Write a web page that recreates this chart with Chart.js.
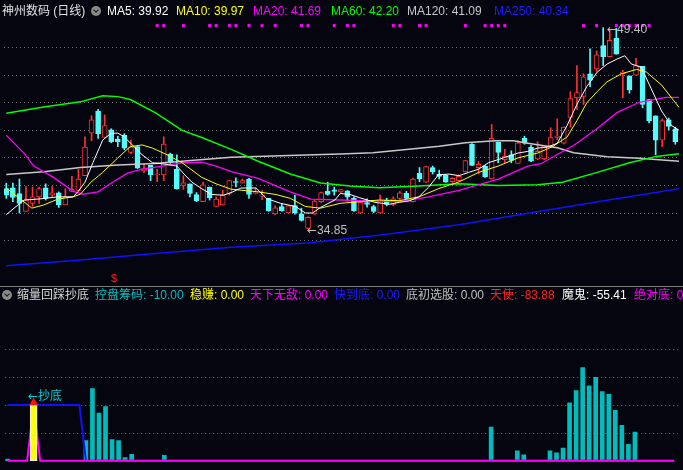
<!DOCTYPE html>
<html>
<head>
<meta charset="utf-8">
<script src="https://cdn.jsdelivr.net/npm/chart.js@4.4.0/dist/chart.umd.min.js"></script>
<style>
  body { margin: 0; background: #05050f; width: 683px; height: 470px; overflow: hidden; position: relative;
         font-family: "Liberation Sans", "Noto Sans CJK SC", sans-serif; font-size: 12px; }
  canvas { position: absolute; left: 0; }
  #mainChart { top: 0; }
  #subChart { top: 287px; }
  .sep { position: absolute; left: 0; top: 286px; width: 683px; height: 1px; background: #7c7c7c; }
  .lbl { position: absolute; white-space: nowrap; line-height: 14px; z-index: 5; }
  .arr { font-family: "DejaVu Sans", sans-serif; font-size: 12px; }
  .knob { position: absolute; width: 10px; height: 10px; border-radius: 50%; background: #8a8a8a; z-index: 5; }
  .knob::after { content: ''; position: absolute; left: 3px; top: 2px; width: 3px; height: 3px;
                 border-right: 1.5px solid #1a1a1a; border-bottom: 1.5px solid #1a1a1a; transform: rotate(45deg); }
</style>
</head>
<body>
<canvas id="mainChart" width="683" height="286"></canvas>
<div class="sep"></div>
<canvas id="subChart" width="683" height="183"></canvas>

<!-- main panel header -->
<span class="lbl" style="left:2px;top:4px;color:#e0e0e0">神州数码 (日线)</span>
<div class="knob" style="left:91px;top:6px"></div>
<span class="lbl" style="left:107px;top:4px;color:#ffffff">MA5: 39.92</span>
<span class="lbl" style="left:176px;top:4px;color:#ffff00">MA10: 39.97</span>
<span class="lbl" style="left:253px;top:4px;color:#ff00ff">MA20: 41.69</span>
<span class="lbl" style="left:331px;top:4px;color:#00ff00">MA60: 42.20</span>
<span class="lbl" style="left:407px;top:4px;color:#c8c8c8">MA120: 41.09</span>
<span class="lbl" style="left:494px;top:4px;color:#1c1cff">MA250: 40.34</span>

<!-- price notes -->
<span class="lbl" style="left:607px;top:22px;color:#c0c0c0"><span class="arr">←</span>49.40</span>
<span class="lbl" style="left:307px;top:223px;color:#c0c0c0"><span class="arr">←</span>34.85</span>
<span class="lbl" style="left:111px;top:271px;color:#ff2020;font-size:11px">$</span>

<!-- indicator panel header -->
<div class="knob" style="left:2px;top:290px"></div>
<span class="lbl" style="left:17px;top:288px;color:#d8d8d8">缩量回踩抄底</span>
<span class="lbl" style="left:95px;top:288px;color:#00c0c0">控盘筹码: -10.00</span>
<span class="lbl" style="left:190px;top:288px;color:#ffff00">稳赚: 0.00</span>
<span class="lbl" style="left:250px;top:288px;color:#ff00ff">天下无敌: 0.00</span>
<span class="lbl" style="left:334px;top:288px;color:#1c1cff">快到底: 0.00</span>
<span class="lbl" style="left:406px;top:288px;color:#c0c0c0">底初选股: 0.00</span>
<span class="lbl" style="left:490px;top:288px;color:#ff2020">天使: -83.88</span>
<span class="lbl" style="left:562px;top:288px;color:#ffffff">魔鬼: -55.41</span>
<span class="lbl" style="left:634px;top:288px;color:#ff00ff">绝对底: 0.00</span>
<span class="lbl" style="left:28px;top:389px;color:#00d0d0"><span class="arr">←</span>抄底</span>

<script>
// daily candles (103 days)
const opens = [37.74,37.81,37.39,36.10,36.68,37.15,37.81,37.27,37.44,36.56,
  37.55,37.62,38.68,41.77,43.37,41.45,42.01,41.33,41.61,40.37,
  40.79,39.03,39.43,38.73,38.73,40.25,39.15,37.97,38.09,37.32,
  36.80,37.86,36.45,36.56,37.39,38.25,38.14,38.44,37.40,37.20,
  37.04,35.91,36.45,35.98,36.52,35.91,34.86,35.91,36.80,37.55,
  37.65,37.51,37.58,37.04,35.98,36.73,36.45,35.98,36.90,36.60,
  37.04,37.40,36.80,38.86,38.21,39.27,38.80,38.72,38.25,38.32,
  38.96,40.96,39.27,39.38,38.44,41.10,39.85,40.20,39.57,41.38,
  40.75,39.90,39.90,40.84,41.45,41.03,42.90,44.31,44.43,46.07,
  46.42,48.11,47.30,48.65,46.07,45.91,45.96,46.61,44.20,43.02,
  41.26,42.72,42.08];
const highs = [38.14,38.14,38.44,37.90,37.86,37.86,38.09,37.90,37.51,37.74,
  38.63,39.14,41.50,43.02,43.49,43.09,42.08,41.54,41.73,41.26,
  40.82,39.50,39.43,39.14,41.50,40.32,40.20,38.68,38.09,37.46,
  38.21,37.86,37.15,37.62,38.32,38.53,38.44,38.49,37.76,37.60,
  37.04,36.50,36.68,36.52,37.27,36.33,35.70,36.90,37.50,38.21,
  37.86,37.70,37.60,37.15,36.80,37.00,36.55,37.27,37.05,37.15,
  37.55,37.55,38.50,39.27,39.36,39.38,39.08,38.75,38.55,38.75,
  39.80,41.00,39.71,39.42,42.39,41.12,40.60,40.48,41.20,41.54,
  40.89,41.14,40.86,42.15,42.80,42.22,44.78,46.66,46.07,47.88,
  47.72,49.40,49.20,49.36,46.31,45.91,47.18,46.61,44.20,43.02,
  42.79,42.86,42.20];
const lows = [37.04,36.80,35.98,36.10,36.45,36.68,36.92,37.15,36.38,36.56,
  37.55,37.62,38.68,41.21,41.38,41.45,41.07,40.79,40.56,40.27,
  39.20,38.91,38.32,38.25,38.32,39.57,37.70,37.69,37.15,36.80,
  36.80,36.92,36.45,36.56,37.27,37.86,38.14,37.04,37.36,36.95,
  36.10,35.86,36.10,35.98,35.90,35.39,34.85,35.86,36.75,37.27,
  37.27,37.46,36.85,36.10,35.95,36.40,36.00,35.98,36.50,36.50,
  36.85,37.00,36.78,38.25,38.20,38.80,38.44,38.20,38.20,38.25,
  38.94,39.40,38.80,38.56,38.44,39.62,39.62,39.62,39.57,40.96,
  39.70,39.85,39.85,40.80,41.30,40.98,42.20,43.49,43.84,45.13,
  46.24,46.66,47.30,47.48,44.31,44.66,45.96,43.60,42.50,40.20,
  40.79,42.00,40.96];
const closes = [37.27,37.10,36.68,36.92,37.15,37.74,37.04,37.44,36.56,37.15,
  37.69,38.44,40.75,42.72,41.73,42.32,41.14,41.14,40.68,40.75,
  39.22,39.20,38.73,38.80,40.98,39.62,37.74,38.16,37.39,36.85,
  38.02,37.08,36.99,37.27,38.32,38.20,38.32,37.32,37.47,37.30,
  36.14,36.36,36.14,36.50,35.98,35.44,35.67,36.85,37.46,37.32,
  37.55,37.67,37.15,36.15,36.75,36.60,36.10,36.92,36.60,37.00,
  37.44,37.04,38.44,38.44,39.34,38.96,38.63,38.21,38.49,38.63,
  39.78,39.43,39.50,38.60,41.38,40.37,40.08,39.78,41.07,41.03,
  39.73,40.44,40.84,41.45,41.55,42.20,44.27,44.71,45.84,45.61,
  47.44,47.30,48.49,47.48,46.19,44.90,46.66,43.85,42.67,41.26,
  42.67,42.25,41.14];

// moving averages: [day, price]
const ma5 = [[0,35.86],[1.2,36.33],[2.7,36.92],[4.9,36.99],[7.9,37.15],[10.2,37.15],[10.9,37.51],[12.0,38.21],
  [13.2,39.62],[14.7,41.26],[15.9,41.73],[17.0,41.77],[18.0,41.49],[19.2,40.91],[20.7,40.20],[22.3,39.62],
  [24.5,39.50],[26.0,39.38],[27.1,38.80],[28.3,38.21],[29.8,37.74],[31.3,37.32],[33.1,37.27],[34.3,37.46],
  [35.8,37.79],[38.1,37.79],[39.6,37.04],[41.8,36.68],[44.1,36.45],[45.6,35.98],[46.7,35.98],[47.9,36.38],
  [50.1,36.92],[50.9,37.39],[52.4,37.32],[53.9,37.08],[56.2,36.75],[58.4,36.61],[59.9,36.75],[61.4,36.85],
  [62.9,37.15],[64.4,37.86],[65.9,38.75],[67.5,38.80],[69.0,38.68],[70.5,38.92],[72.0,39.15],[73.5,39.62],
  [75.0,39.85],[76.5,40.08],[78.0,40.32],[79.5,40.44],[81.0,40.68],[82.5,40.75],[84.0,41.03],[85.5,42.32],
  [87.0,43.85],[88.5,45.13],[90.1,46.19],[91.6,46.77],[93.1,47.13],[94.3,47.37],[95.3,46.77],[96.8,46.54],
  [98.3,45.01],[99.9,43.37],[101.4,42.32],[102.6,41.96]];
const ma10 = [[0,37.79],[1.9,37.08],[3.9,36.33],[5.7,36.56],[7.9,36.99],[10.2,37.15],[11.3,37.34],[12.9,38.21],
  [14.7,38.92],[17.0,39.97],[18.9,40.79],[20.7,40.91],[22.3,40.68],[24.5,40.20],[26.8,39.62],[29.8,38.56],
  [32.0,38.09],[34.3,37.70],[38.4,37.51],[41.1,37.32],[43.3,37.04],[45.6,36.45],[47.9,36.33],[50.9,36.68],
  [53.9,36.80],[56.9,36.92],[59.9,36.87],[62.9,37.15],[65.9,37.74],[69.0,38.23],[72.0,38.92],[75.0,39.38],
  [78.0,39.97],[81.0,40.32],[83.3,40.79],[85.5,41.49],[87.0,42.67],[88.5,43.96],[90.1,44.78],[91.6,45.49],
  [93.8,46.07],[96.1,46.38],[97.6,46.19],[99.9,45.25],[102.6,43.61]];
const ma20 = [[0,41.61],[2.7,40.32],[4.2,39.38],[7.2,38.56],[10.2,37.55],[11.7,37.34],[14.0,37.51],[16.2,38.21],
  [18.5,38.87],[20.7,39.15],[23.8,39.38],[26.8,39.62],[29.8,39.66],[32.0,39.38],[34.3,38.97],[38.4,38.49],
  [43.3,37.51],[46.4,36.99],[50.9,36.92],[55.4,36.85],[59.9,36.80],[64.4,37.15],[69.0,37.62],[75.0,38.44],
  [79.5,39.38],[81.5,39.55],[86.6,40.90],[90.1,42.10],[93.1,43.25],[96.5,44.00],[100.6,44.36],[102.6,44.36]];
const ma60 = [[0,43.21],[5.7,43.65],[11.3,44.03],[14.7,44.48],[17.0,44.41],[18.9,44.20],[22.7,43.25],[26.8,41.96],
  [29.8,41.45],[34.3,40.59],[38.4,39.73],[43.3,38.80],[47.9,38.16],[52.4,37.93],[56.9,37.81],[62.9,37.93],
  [69.0,38.09],[75.0,37.97],[81.0,38.02],[84.8,38.21],[90.1,38.92],[95.0,39.62],[99.1,40.08],[102.6,40.27]];
const ma120 = [[0,38.77],[5.7,38.96],[11.3,39.27],[17.0,39.45],[22.7,39.57],[28.6,39.80],[34.3,40.01],[41.8,40.13],
  [50.9,40.25],[55.9,40.34],[61.0,40.58],[66.0,40.81],[70.0,41.07],[74.5,41.21],[77.3,41.21],[79.5,41.03],
  [84.0,40.70],[86.5,40.35],[91.6,40.05],[96.5,39.95],[102.6,39.73]];
const ma250 = [[0,32.15],[11.3,32.58],[22.7,33.04],[34.3,33.49],[45.9,33.80],[57.4,34.40],[69.0,35.13],
  [80.0,36.00],[91.1,36.86],[102.6,37.74]];

// magenta signal dots along the top of the price panel
const topSignalDays = [23,24,27,31,32,34,35,37,39,41,45,46,50,52,53,59,60,63,64,70,73,74,75,76,88,90,93,94,95,96,97,98];
const topSignalLevel = 49.56;
const priceGrid = [34, 36, 38, 40, 42, 44, 46, 48];

// indicator panel (缩量回踩抄底)
const chipDays = [0,12,13,14,15,16,17,18,19,24,74,78,79,83,84,85,86,87,88,89,90,91,92,93,94,95,96];
const chipValues = [1.5,18.1,64.5,42.6,48.5,18.9,18.1,2.9,5.7,4.8,30.2,8.8,5.4,8.8,7.1,11.3,51.9,62.8,83.4,67.1,74.7,62.0,59.5,45.1,31.6,14.7,25.7];
const nearBottom = [50,50,50,50,50,50,50,50,50,50,50,50,0];   // 快到底, days 0..12
const wenZhuanDays = [4];
const wenZhuanValues = [50];
const buyMarkLevel = [52];
const invincibleDays = [3, 4, 5];
const invincibleValues = [0, 48, 0];
const subGrid = [25, 50, 75, 100];

const RED = '#ff3232';
const CYAN = '#54fcfc';
const BG = '#05050f';
const X_MIN = -0.35, X_MAX = 102.56;

function toPoints(pairs) {
    return pairs.map(p => ({ x: p[0], y: p[1] }));
}

function maLine(pairs, color, width) {
    return {
        type: 'line',
        data: toPoints(pairs),
        borderColor: color,
        borderWidth: width,
        pointRadius: 0,
        tension: 0,
        order: 0
    };
}

// dotted horizontal guide lines at given values of the y scale
function dottedGrid(values) {
    return {
        id: 'dottedGrid',
        beforeDatasetsDraw(chart) {
            const { ctx, chartArea, scales } = chart;
            ctx.save();
            ctx.strokeStyle = '#6e6e6e';
            ctx.lineWidth = 1;
            ctx.setLineDash([1, 3]);
            values.forEach(v => {
                const y = Math.round(scales.y.getPixelForValue(v)) + 0.5;
                ctx.beginPath();
                ctx.moveTo(chartArea.left, y);
                ctx.lineTo(chartArea.right, y);
                ctx.stroke();
            });
            ctx.restore();
        }
    };
}

function hiddenAxis(min, max) {
    return {
        min: min,
        max: max,
        afterFit: s => { s.width = 0; },
        ticks: { display: false },
        grid: { display: false },
        border: { display: false }
    };
}

function createMainChart() {
    const days = opens.map((_, i) => i);
    const up = days.map(i => closes[i] >= opens[i]);

    // wick = low..high, body = open..close
    const wicks = days.map(i => ({ x: i, y: [lows[i], highs[i]] }));
    const bodies = days.map(i => ({ x: i, y: [Math.min(opens[i], closes[i]), Math.max(opens[i], closes[i])] }));

    new Chart(document.getElementById('mainChart'), {
        type: 'bar',
        data: {
            datasets: [
                maLine(ma5, '#ffffff', 1),
                maLine(ma10, '#ffff00', 1),
                maLine(ma20, '#ff00ff', 1.3),
                maLine(ma60, '#00ff00', 1.5),
                maLine(ma120, '#c8c8c8', 1.5),
                maLine(ma250, '#1010ff', 1.5),
                {
                    type: 'line',
                    data: topSignalDays.map(d => ({ x: d, y: topSignalLevel })),
                    showLine: false,
                    pointStyle: 'rect',
                    pointRadius: 2.1,
                    pointBorderWidth: 0,
                    pointBackgroundColor: '#ff00ff',
                    order: 0
                },
                {
                    data: bodies,
                    grouped: false,
                    barThickness: 5,
                    backgroundColor: days.map(i => up[i] ? BG : CYAN),
                    borderColor: days.map(i => up[i] ? RED : CYAN),
                    borderWidth: 1,
                    borderSkipped: false,
                    order: 1
                },
                {
                    data: wicks,
                    grouped: false,
                    barThickness: 1,
                    backgroundColor: days.map(i => up[i] ? RED : CYAN),
                    borderWidth: 0,
                    order: 2
                }
            ]
        },
        options: {
            responsive: false,
            animation: false,
            devicePixelRatio: 1,
            layout: { padding: 0 },
            plugins: { legend: { display: false }, tooltip: { enabled: false } },
            scales: {
                x: { type: 'linear', min: X_MIN, max: X_MAX, offset: false, display: false },
                y: hiddenAxis(30.98, 51.12)
            }
        },
        plugins: [dottedGrid(priceGrid)]
    });
}

function createSubChart() {
    const days = opens.map((_, i) => i);

    new Chart(document.getElementById('subChart'), {
        type: 'bar',
        data: {
            datasets: [
                {
                    type: 'line',
                    data: days.map(i => ({ x: i, y: invincibleDays.includes(i) ? invincibleValues[invincibleDays.indexOf(i)] : 0 })),
                    borderColor: '#ff00ff',
                    borderWidth: 2,
                    pointRadius: 0,
                    tension: 0,
                    order: 1
                },
                {
                    type: 'line',
                    data: buyMarkLevel.map((v, k) => ({ x: wenZhuanDays[k], y: v })),
                    showLine: false,
                    pointStyle: 'triangle',
                    pointRadius: 5.2,
                    pointBorderWidth: 0,
                    pointBackgroundColor: '#ff1010',
                    order: 0
                },
                {
                    data: wenZhuanValues.map((v, k) => ({ x: wenZhuanDays[k], y: v })),
                    grouped: false,
                    barThickness: 7,
                    backgroundColor: '#ffff00',
                    borderColor: '#f0f0f0',
                    borderWidth: 1,
                    borderSkipped: false,
                    order: 0.5
                },
                {
                    type: 'line',
                    data: days.map(i => ({ x: i, y: i < nearBottom.length ? nearBottom[i] : 0 })),
                    borderColor: '#1010ff',
                    borderWidth: 2,
                    pointRadius: 0,
                    tension: 0,
                    order: 2
                },
                {
                    data: chipValues.map((v, k) => ({ x: chipDays[k], y: v })),
                    grouped: false,
                    barThickness: 4,
                    backgroundColor: '#00bcbc',
                    borderWidth: 0,
                    order: 3
                }
            ]
        },
        options: {
            responsive: false,
            animation: false,
            devicePixelRatio: 1,
            layout: { padding: 0 },
            plugins: { legend: { display: false }, tooltip: { enabled: false } },
            scales: {
                x: { type: 'linear', min: X_MIN, max: X_MAX, offset: false, display: false },
                y: hiddenAxis(-3.63, 150.9)
            }
        },
        plugins: [dottedGrid(subGrid)]
    });
}

createMainChart();
createSubChart();
</script>
</body>
</html>
